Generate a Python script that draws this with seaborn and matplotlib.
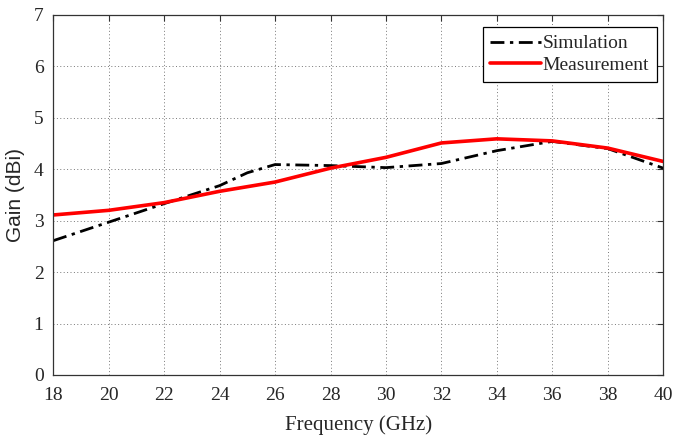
import numpy as np
import pandas as pd
import seaborn as sns
import matplotlib.pyplot as plt

# ---DATA-----------------------------------------------------------------------
sim_freq = [18, 20, 22, 24, 25, 26, 28, 30, 32, 34, 36, 38, 40]
sim_gain = [2.61, 2.97, 3.33, 3.68, 3.93, 4.09, 4.07, 4.03, 4.11, 4.36, 4.54, 4.40, 4.02]
meas_freq = [18, 20, 22, 24, 26, 28, 30, 32, 34, 36, 38, 40]
meas_gain = [3.11, 3.20, 3.35, 3.57, 3.75, 4.02, 4.23, 4.51, 4.59, 4.55, 4.41, 4.15]

sim = pd.DataFrame({"freq": sim_freq, "gain": sim_gain})
meas = pd.DataFrame({"freq": meas_freq, "gain": meas_gain})

# ---PLOT-----------------------------------------------------------------------
sns.set_style("white")
plt.rcParams["font.family"] = ["Liberation Serif", "DejaVu Serif"]

fig, ax = plt.subplots(figsize=(6.74, 4.37), dpi=100)
fig.subplots_adjust(left=0.079, right=0.984, top=0.966, bottom=0.142)

sns.lineplot(data=sim, x="freq", y="gain", ax=ax, color="black", lw=2,
             linestyle=(0, (5, 2, 1.2, 2)), label="Simulation")
sns.lineplot(data=meas, x="freq", y="gain", ax=ax, color="#ff0000", lw=2.6,
             label="Measurement")

ax.set_xlim(18, 40)
ax.set_ylim(0, 7)
ax.set_xticks(np.arange(18, 41, 2))
ax.set_yticks(np.arange(0, 8, 1))
ax.grid(True, linestyle=(0, (1, 2.5)), color="#777777", linewidth=0.7)
ax.tick_params(direction="in", top=True, right=True, labelsize=14,
               length=4, color="#333333")
ax.tick_params(axis="x", pad=9)
ax.tick_params(axis="y", pad=7)
for s in ax.spines.values():
    s.set_color("#333333")
    s.set_linewidth(0.9)

ax.set_xlabel("Frequency (GHz)", fontsize=15, labelpad=8)
ax.set_ylabel("Gain (dBi)", fontsize=15, family=["Liberation Sans", "DejaVu Sans"],
              labelpad=6)

leg = ax.legend(loc="upper right", fontsize=14, frameon=True, fancybox=False,
                edgecolor="black", framealpha=1, handlelength=2.6,
                handletextpad=0.1, borderpad=0.4, labelspacing=0.2,
                borderaxespad=0, bbox_to_anchor=(0.99, 0.966))
leg.get_frame().set_linewidth(0.9)

plt.savefig("out.png", dpi=100)
